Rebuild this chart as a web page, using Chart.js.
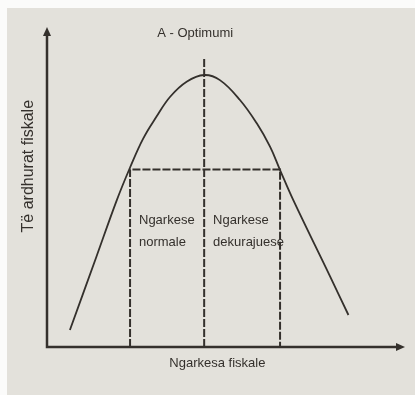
<!DOCTYPE html>
<html>
<head>
<meta charset="utf-8">
<script src="https://cdn.jsdelivr.net/npm/chart.js@4/dist/chart.umd.min.js"></script>
<style>
  html, body { margin: 0; padding: 0; background: #fbfbfa; }
  #wrap { width: 415px; height: 395px; }
</style>
</head>
<body>
<div id="wrap"><canvas id="laffer"></canvas></div>
<script>
// Laffer curve (x: fiscal load, y: fiscal revenue, both 0-100)
const curveX = [6.4, 13.8, 19.5, 23.2, 26.9, 30.6, 34.4, 39.0, 43.9, 48.3, 53.9, 58.6, 62.3, 65.1, 68.8, 79.1, 84.2];
const curveY = [5.3, 28.2, 45.9, 56.1, 65.2, 72.0, 78.2, 82.9, 85.0, 83.4, 77.2, 69.9, 62.6, 55.3, 45.9, 22.0, 10.0];

// dashed box under the curve and the optimum line
const boxX = [23.2, 23.2, 65.1, 65.1];
const boxY = [0, 55.5, 55.5, 0];
const optimumX = [43.9, 43.9];
const optimumY = [0, 90.3];

const ink = '#34302c';
const paper = '#e3e1db';

const toPoints = (xs, ys) => xs.map((x, i) => ({ x: x, y: ys[i] }));

// paper background, arrowed axes and the text labels
const sketchPlugin = {
    id: 'sketch',
    beforeDraw: (chart) => {
        const c = chart.ctx;
        c.save();
        c.fillStyle = paper;
        c.fillRect(7, 8, chart.width - 7, chart.height - 8);
        c.restore();
    },
    afterDraw: (chart) => {
        const c = chart.ctx;
        const a = chart.chartArea;
        const sx = chart.scales.x;
        const sy = chart.scales.y;
        c.save();

        // axes
        c.strokeStyle = ink;
        c.fillStyle = ink;
        c.lineWidth = 2.5;
        c.beginPath();
        c.moveTo(a.left, a.top + 6);
        c.lineTo(a.left, a.bottom);
        c.lineTo(a.right - 6, a.bottom);
        c.stroke();
        c.beginPath();
        c.moveTo(a.left, a.top);
        c.lineTo(a.left - 4, a.top + 9);
        c.lineTo(a.left + 4, a.top + 9);
        c.closePath();
        c.fill();
        c.beginPath();
        c.moveTo(a.right, a.bottom);
        c.lineTo(a.right - 9, a.bottom - 4);
        c.lineTo(a.right - 9, a.bottom + 4);
        c.closePath();
        c.fill();

        // labels
        c.fillStyle = ink;
        c.textBaseline = 'middle';
        c.textAlign = 'left';
        c.font = '13px "Liberation Sans", Arial, sans-serif';
        c.fillText('A - Optimumi', sx.getPixelForValue(30.8), sy.getPixelForValue(98.1));
        c.fillText('Ngarkese', sx.getPixelForValue(25.7), sy.getPixelForValue(39.7));
        c.fillText('normale', sx.getPixelForValue(25.7), sy.getPixelForValue(32.8));
        c.fillText('Ngarkese', sx.getPixelForValue(46.4), sy.getPixelForValue(39.7));
        c.fillText('dekurajuese', sx.getPixelForValue(46.4), sy.getPixelForValue(32.8));

        c.textAlign = 'center';
        c.fillText('Ngarkesa fiskale', sx.getPixelForValue(47.6), a.bottom + 16);

        c.font = '16px "Liberation Sans", Arial, sans-serif';
        c.translate(29, sy.getPixelForValue(56.5));
        c.rotate(-Math.PI / 2);
        c.fillText('Të ardhurat fiskale', 0, 0);
        c.restore();
    }
};

new Chart(document.getElementById('laffer'), {
    type: 'line',
    data: {
        datasets: [
            {
                data: toPoints(boxX, boxY),
                borderColor: ink,
                borderWidth: 2,
                borderDash: [8, 2],
                pointRadius: 0,
                tension: 0
            },
            {
                data: toPoints(optimumX, optimumY),
                borderColor: ink,
                borderWidth: 2,
                borderDash: [8, 2],
                pointRadius: 0,
                tension: 0
            },
            {
                data: toPoints(curveX, curveY),
                borderColor: ink,
                borderWidth: 1.8,
                pointRadius: 0,
                tension: 0.4
            }
        ]
    },
    options: {
        responsive: true,
        maintainAspectRatio: false,
        animation: false,
        layout: { padding: { left: 47, top: 27, right: 10, bottom: 48 } },
        plugins: {
            legend: { display: false },
            tooltip: { enabled: false }
        },
        scales: {
            x: { type: 'linear', min: 0, max: 100, display: false },
            y: { type: 'linear', min: 0, max: 100, display: false }
        }
    },
    plugins: [sketchPlugin]
});
</script>
</body>
</html>
